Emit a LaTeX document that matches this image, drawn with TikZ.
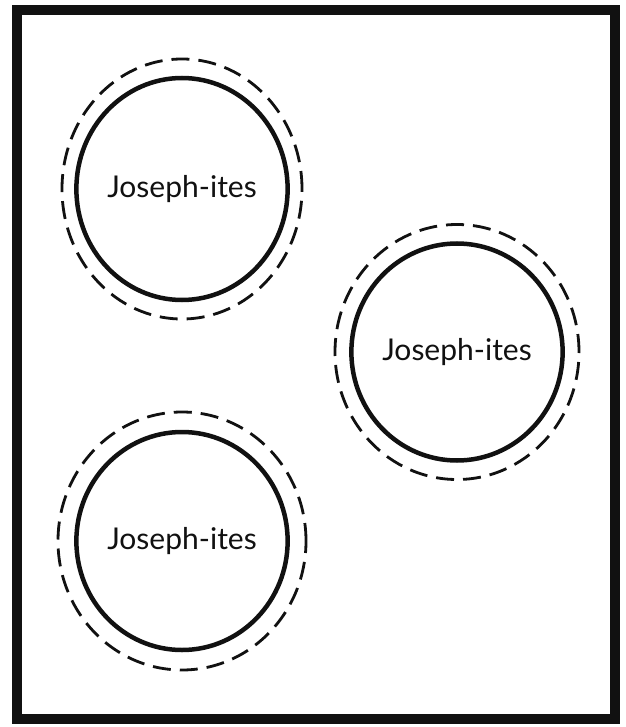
\documentclass[tikz,border=0pt]{standalone}
\usepackage{tikz}
\usetikzlibrary{shapes.geometric}
\usepackage{fontspec}
\setmainfont{Lato}
\definecolor{inkdark}{HTML}{111111}

\begin{document}
\begin{tikzpicture}[x=1pt,y=-1pt,
  group/.style={ellipse,draw=inkdark,line width=4.5pt,inner sep=0pt,font=\fontsize{30}{36}\selectfont,text=inkdark},
  halo/.style={ellipse,draw=inkdark,line width=2.8pt,dash pattern=on 18pt off 9pt,inner sep=0pt}]
  \useasboundingbox[fill=white] (0,0) rectangle (625,727);
  % outer frame
  \draw[line width=10pt,inkdark] (17,10) rectangle (615,719);
  % three groups
  \node[group,minimum width=201pt,minimum height=222pt] (grpA) at (182,189) {Joseph-ites};
  \node[halo,minimum width=240pt,minimum height=260pt] (haloA) at (grpA.center) {};
  \node[group,minimum width=208pt,minimum height=217pt] (grpB) at (457,352) {Joseph-ites};
  \node[halo,minimum width=244pt,minimum height=255pt] (haloB) at (grpB.center) {};
  \node[group,minimum width=203pt,minimum height=218pt] (grpC) at (182,541) {Joseph-ites};
  \node[halo,minimum width=248pt,minimum height=258pt] (haloC) at (grpC.center) {};
\end{tikzpicture}
\end{document}
